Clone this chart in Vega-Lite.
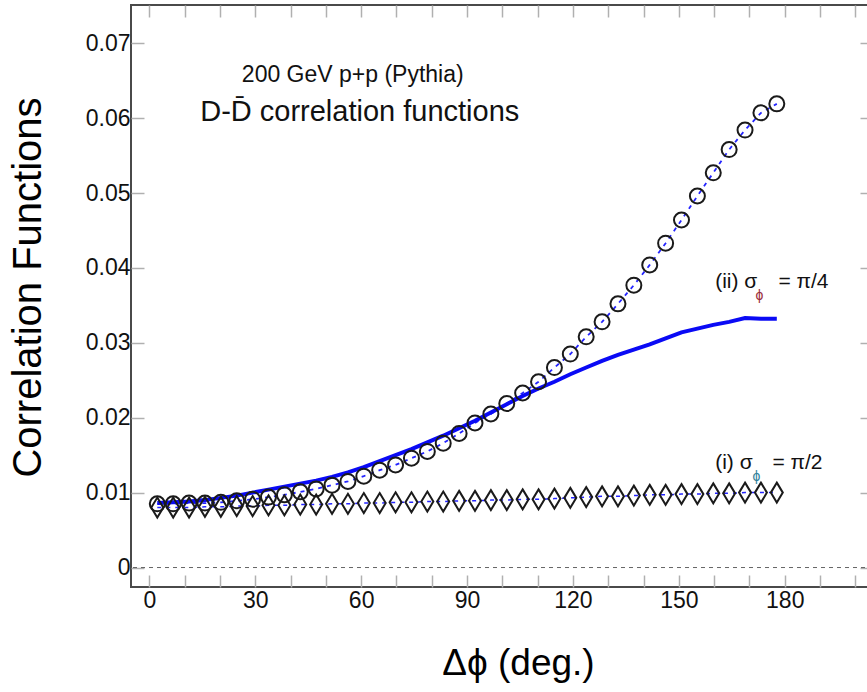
{
  "$schema": "https://vega.github.io/schema/vega-lite/v6.json",
  "autosize": "none",
  "width": 742,
  "height": 582,
  "padding": {"left": 131, "top": 5, "right": 0, "bottom": 105},
  "background": "white",
  "config": {
    "view": {"stroke": "#4a4a4a", "strokeWidth": 2},
    "font": "Liberation Sans",
    "axis": {"grid": false, "domain": false, "tickColor": "#b0b0b0", "tickWidth": 1.5, "labelFont": "Liberation Sans", "titleFont": "Liberation Sans", "labelColor": "#111", "titleColor": "#000", "labelFontSize": 23, "titleFontWeight": "normal"}
  },
  "datasets": {
    "circ": [
      {"x": 2.25, "y": 0.0085}, {"x": 6.75, "y": 0.0085}, {"x": 11.25, "y": 0.0086}, {"x": 15.75, "y": 0.0086},
      {"x": 20.25, "y": 0.0087}, {"x": 24.75, "y": 0.0089}, {"x": 29.25, "y": 0.0091}, {"x": 33.75, "y": 0.0094},
      {"x": 38.25, "y": 0.0097}, {"x": 42.75, "y": 0.0101}, {"x": 47.25, "y": 0.0105}, {"x": 51.75, "y": 0.0110},
      {"x": 56.25, "y": 0.0115}, {"x": 60.75, "y": 0.0122}, {"x": 65.25, "y": 0.0130}, {"x": 69.75, "y": 0.0137},
      {"x": 74.25, "y": 0.0146}, {"x": 78.75, "y": 0.0155}, {"x": 83.25, "y": 0.0166}, {"x": 87.75, "y": 0.0179},
      {"x": 92.25, "y": 0.0193}, {"x": 96.75, "y": 0.0205}, {"x": 101.25, "y": 0.0219}, {"x": 105.75, "y": 0.0233},
      {"x": 110.25, "y": 0.0248}, {"x": 114.75, "y": 0.0267}, {"x": 119.25, "y": 0.0285}, {"x": 123.75, "y": 0.0308},
      {"x": 128.25, "y": 0.0328}, {"x": 132.75, "y": 0.0352}, {"x": 137.25, "y": 0.0377}, {"x": 141.75, "y": 0.0404},
      {"x": 146.25, "y": 0.0433}, {"x": 150.75, "y": 0.0464}, {"x": 155.25, "y": 0.0496}, {"x": 159.75, "y": 0.0527},
      {"x": 164.25, "y": 0.0558}, {"x": 168.75, "y": 0.0584}, {"x": 173.25, "y": 0.0607}, {"x": 177.75, "y": 0.0619}
    ],
    "diam": [
      {"x": 2.25, "y": 0.0080}, {"x": 6.75, "y": 0.0080}, {"x": 11.25, "y": 0.0080}, {"x": 15.75, "y": 0.0081},
      {"x": 20.25, "y": 0.0081}, {"x": 24.75, "y": 0.0082}, {"x": 29.25, "y": 0.0082}, {"x": 33.75, "y": 0.0083},
      {"x": 38.25, "y": 0.0083}, {"x": 42.75, "y": 0.0084}, {"x": 47.25, "y": 0.0084}, {"x": 51.75, "y": 0.0085},
      {"x": 56.25, "y": 0.0085}, {"x": 60.75, "y": 0.0086}, {"x": 65.25, "y": 0.0086}, {"x": 69.75, "y": 0.0087},
      {"x": 74.25, "y": 0.0087}, {"x": 78.75, "y": 0.0088}, {"x": 83.25, "y": 0.0088}, {"x": 87.75, "y": 0.0089},
      {"x": 92.25, "y": 0.0089}, {"x": 96.75, "y": 0.0090}, {"x": 101.25, "y": 0.0090}, {"x": 105.75, "y": 0.0091},
      {"x": 110.25, "y": 0.0091}, {"x": 114.75, "y": 0.0092}, {"x": 119.25, "y": 0.0093}, {"x": 123.75, "y": 0.0094},
      {"x": 128.25, "y": 0.0095}, {"x": 132.75, "y": 0.0095}, {"x": 137.25, "y": 0.0096}, {"x": 141.75, "y": 0.0097},
      {"x": 146.25, "y": 0.0097}, {"x": 150.75, "y": 0.0098}, {"x": 155.25, "y": 0.0098}, {"x": 159.75, "y": 0.0099},
      {"x": 164.25, "y": 0.0099}, {"x": 168.75, "y": 0.0100}, {"x": 173.25, "y": 0.0100}, {"x": 177.75, "y": 0.0100}
    ],
    "solid": [
      {"x": 2.25, "y": 0.0086}, {"x": 6.75, "y": 0.0087}, {"x": 11.25, "y": 0.0088}, {"x": 15.75, "y": 0.0090},
      {"x": 20.25, "y": 0.0093}, {"x": 24.75, "y": 0.0096}, {"x": 29.25, "y": 0.0100}, {"x": 33.75, "y": 0.0104},
      {"x": 38.25, "y": 0.0108}, {"x": 42.75, "y": 0.0112}, {"x": 47.25, "y": 0.0116}, {"x": 51.75, "y": 0.0121},
      {"x": 56.25, "y": 0.0127}, {"x": 60.75, "y": 0.0134}, {"x": 65.25, "y": 0.0142}, {"x": 69.75, "y": 0.0150},
      {"x": 74.25, "y": 0.0158}, {"x": 78.75, "y": 0.0167}, {"x": 83.25, "y": 0.0176}, {"x": 87.75, "y": 0.0186},
      {"x": 92.25, "y": 0.0196}, {"x": 96.75, "y": 0.0207}, {"x": 101.25, "y": 0.0218}, {"x": 105.75, "y": 0.0229},
      {"x": 110.25, "y": 0.0239}, {"x": 114.75, "y": 0.0248}, {"x": 119.25, "y": 0.0258}, {"x": 123.75, "y": 0.0267},
      {"x": 128.25, "y": 0.0276}, {"x": 132.75, "y": 0.0284}, {"x": 137.25, "y": 0.0291}, {"x": 141.75, "y": 0.0298},
      {"x": 146.25, "y": 0.0306}, {"x": 150.75, "y": 0.0314}, {"x": 155.25, "y": 0.0319}, {"x": 159.75, "y": 0.0324},
      {"x": 164.25, "y": 0.0328}, {"x": 168.75, "y": 0.0333}, {"x": 173.25, "y": 0.0332}, {"x": 177.75, "y": 0.0332}
    ],
    "zero": [{"y": 0}],
    "notes": [
      {"kind": "t1", "x": 26.2, "y": 0.06575, "text": "200 GeV p+p (Pythia)"},
      {"kind": "t2", "x": 14.4, "y": 0.06086, "text": "D-D̄ correlation functions"},
      {"kind": "lab", "x": 160.3, "y": 0.03812, "text": "(ii) σ"},
      {"kind": "lab", "x": 178.2, "y": 0.03812, "text": "= π/4"},
      {"kind": "lab", "x": 160.3, "y": 0.01395, "text": "(i) σ"},
      {"kind": "lab", "x": 176.5, "y": 0.01395, "text": "= π/2"},
      {"kind": "sub2", "x": 172.8, "y": 0.03625, "text": "ϕ"},
      {"kind": "sub1", "x": 172.0, "y": 0.0121, "text": "ϕ"}
    ]
  },
  "encoding": {
    "x": {"field": "x", "type": "quantitative", "scale": {"domain": [-5.2, 205], "nice": false, "zero": false}, "axis": null},
    "y": {"field": "y", "type": "quantitative", "scale": {"domain": [-0.0026, 0.0751], "nice": false, "zero": false}, "axis": null}
  },
  "layer": [
    {
      "data": {"name": "zero"},
      "mark": {"type": "rule", "color": "#666", "strokeDash": [4, 4], "strokeWidth": 1},
      "encoding": {"x": null}
    },
    {
      "data": {"name": "circ"},
      "mark": {"type": "line", "color": "#2424ff", "strokeDash": [4, 5], "strokeWidth": 1.8},
      "encoding": {
        "x": {"field": "x", "type": "quantitative",
          "axis": {"orient": "bottom", "title": "Δϕ (deg.)", "titleFontSize": 37, "titlePadding": 33,
            "values": [0, 10, 20, 30, 40, 50, 60, 70, 80, 90, 100, 110, 120, 130, 140, 150, 160, 170, 180, 190, 200],
            "labelExpr": "datum.value % 30 == 0 && datum.value <= 180 ? datum.label : ''",
            "tickSize": -12, "labelPadding": 14, "titleX": 387}},
        "y": {"field": "y", "type": "quantitative",
          "axis": {"orient": "left", "title": "Correlation Functions", "titleFontSize": 40, "format": ".2~f",
            "values": [0, 0.01, 0.02, 0.03, 0.04, 0.05, 0.06, 0.07], "tickSize": -13, "labelPadding": 14, "titlePadding": 37, "titleY": 282}}
      }
    },
    {
      "data": {"name": "diam"},
      "mark": {"type": "line", "color": "#2424ff", "strokeDash": [4, 5], "strokeWidth": 1.5},
      "encoding": {
        "x": {"field": "x", "type": "quantitative",
          "axis": {"orient": "top", "title": null, "labels": false,
            "values": [0, 10, 20, 30, 40, 50, 60, 70, 80, 90, 100, 110, 120, 130, 140, 150, 160, 170, 180, 190, 200], "tickSize": -12}},
        "y": {"field": "y", "type": "quantitative",
          "axis": {"orient": "right", "title": null, "labels": false,
            "values": [0, 0.01, 0.02, 0.03, 0.04, 0.05, 0.06, 0.07], "tickSize": -13}}
      }
    },
    {
      "data": {"name": "solid"},
      "mark": {"type": "line", "color": "#0a0af5", "strokeWidth": 4}
    },
    {
      "data": {"name": "circ"},
      "mark": {"type": "point", "shape": "circle", "filled": false, "stroke": "#1a1a1a", "strokeWidth": 2, "size": 225, "opacity": 1}
    },
    {
      "data": {"name": "diam"},
      "mark": {"type": "point", "shape": "M0,-1L0.6,0L0,1L-0.6,0Z", "filled": false, "stroke": "#1a1a1a", "strokeWidth": 2, "size": 400, "opacity": 1}
    },
    {
      "data": {"name": "notes"},
      "transform": [{"filter": "datum.kind == 't1'"}],
      "mark": {"type": "text", "align": "left", "baseline": "middle", "fontSize": 23, "color": "#111"},
      "encoding": {"text": {"field": "text"}}
    },
    {
      "data": {"name": "notes"},
      "transform": [{"filter": "datum.kind == 't2'"}],
      "mark": {"type": "text", "align": "left", "baseline": "middle", "fontSize": 29, "color": "#111"},
      "encoding": {"text": {"field": "text"}}
    },
    {
      "data": {"name": "notes"},
      "transform": [{"filter": "datum.kind == 'lab'"}],
      "mark": {"type": "text", "align": "left", "baseline": "middle", "fontSize": 21, "color": "#111"},
      "encoding": {"text": {"field": "text"}}
    },
    {
      "data": {"name": "notes"},
      "transform": [{"filter": "datum.kind == 'sub2'"}],
      "mark": {"type": "text", "align": "center", "baseline": "middle", "fontSize": 14, "color": "#9a2a3a"},
      "encoding": {"text": {"field": "text"}}
    },
    {
      "data": {"name": "notes"},
      "transform": [{"filter": "datum.kind == 'sub1'"}],
      "mark": {"type": "text", "align": "center", "baseline": "middle", "fontSize": 14, "color": "#2f7f9a"},
      "encoding": {"text": {"field": "text"}}
    }
  ]
}
